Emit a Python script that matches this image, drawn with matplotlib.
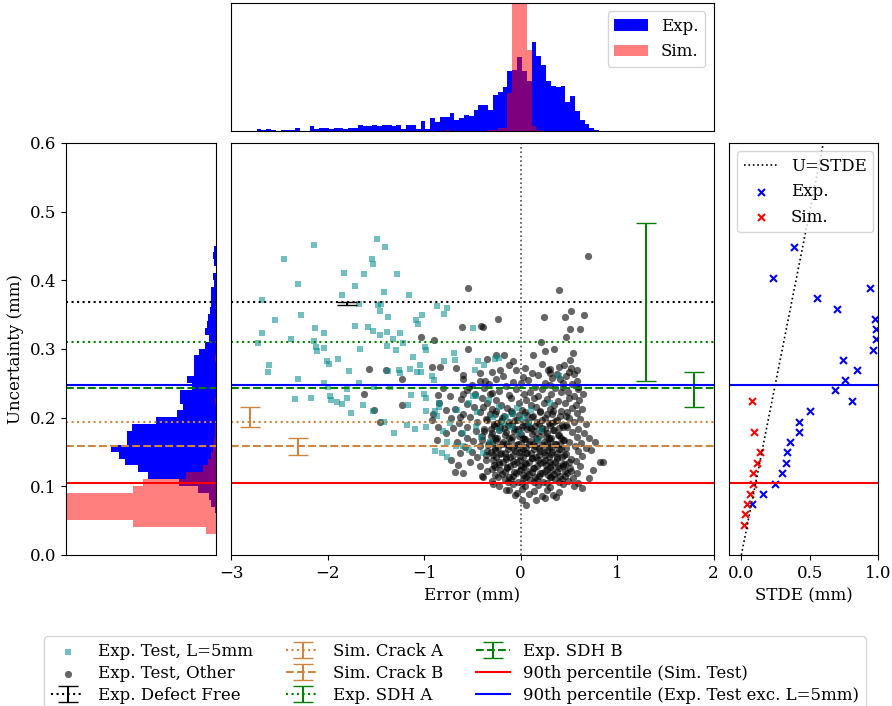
import numpy as np
import matplotlib
matplotlib.use("Agg")
import matplotlib.pyplot as plt

plt.rcParams['font.family'] = 'DejaVu Serif'
plt.rcParams['font.size'] = 12

# ---- scatter data (error, uncertainty) in mm ----
l5_err = [-2.14, -2.45, -1.49, -1.40, -1.54, -1.53, -1.83, -1.62, -1.28, -2.31, -1.72, -1.41, -1.16,
          -2.68, -1.85, -1.67, -1.48, -1.45, -1.46, -2.28, -1.37, -0.87, -0.76, -0.79, -2.54, -1.08,
          -1.06, -1.02, -2.68, -2.38, -2.13, -2.04, -1.72, -1.58, -1.53, -1.46, -1.38, -1.25, -1.32,
          -2.72, -2.14, -2.12, -2.11, -2.04, -1.66, -1.38, -1.29, -1.22, -0.99, -0.98, -2.61, -2.62,
          -2.31, -2.01, -1.99, -1.89, -1.78, -1.67, -2.04, -2.00, -1.37, -1.26, -1.25, -1.15, -1.11,
          -1.04, -1.07, -1.03, -0.92, -0.90, -0.69, -0.79, -0.68, -0.49, -0.44, -0.38, -0.47, -0.27,
          -0.22, -0.49, -2.34, -2.17, -1.97, -1.96, -1.90, -1.85, -1.80, -1.76, -1.63, -1.53, -1.80,
          -1.52, -1.35, -1.14, -1.00, -0.98, -1.17, -0.98, -0.89, -0.84, -0.84, -0.66, -0.53, -0.46,
          -0.33, -0.45, -1.18, -1.09, -0.98, -1.31, -0.87, -0.89, -0.81, -0.76, -0.76, -1.42, -0.60,
          -0.53, -0.41, -0.32, -0.22, -0.10, -0.01, -0.08, 0.09, 0.30, 0.40, -0.80, -0.73, -0.22,
          -0.15, 0.02, 0.18, -0.39, -0.29, -0.18, -0.04, -0.60, -0.46, -0.67, -0.01, 0.11, 0.21]
l5_unc = [0.452, 0.431, 0.460, 0.448, 0.431, 0.424, 0.410, 0.409, 0.409, 0.395, 0.391, 0.383, 0.378,
          0.371, 0.378, 0.366, 0.364, 0.366, 0.355, 0.350, 0.347, 0.363, 0.359, 0.351, 0.342, 0.342,
          0.337, 0.349, 0.323, 0.315, 0.330, 0.323, 0.333, 0.332, 0.326, 0.320, 0.324, 0.323, 0.315,
          0.308, 0.311, 0.303, 0.297, 0.301, 0.300, 0.305, 0.299, 0.308, 0.303, 0.299, 0.276, 0.266,
          0.256, 0.283, 0.278, 0.286, 0.268, 0.251, 0.250, 0.245, 0.268, 0.269, 0.265, 0.271, 0.289,
          0.276, 0.267, 0.267, 0.260, 0.255, 0.294, 0.282, 0.284, 0.330, 0.283, 0.276, 0.269, 0.285,
          0.287, 0.231, 0.227, 0.228, 0.232, 0.225, 0.223, 0.220, 0.228, 0.207, 0.218, 0.210, 0.241,
          0.245, 0.245, 0.233, 0.235, 0.229, 0.219, 0.209, 0.210, 0.216, 0.222, 0.211, 0.222, 0.231,
          0.225, 0.208, 0.189, 0.184, 0.187, 0.177, 0.202, 0.152, 0.148, 0.143, 0.165, 0.194, 0.158,
          0.153, 0.172, 0.165, 0.182, 0.187, 0.177, 0.206, 0.192, 0.221, 0.260, 0.180, 0.192, 0.216,
          0.201, 0.201, 0.167, 0.148, 0.201, 0.192, 0.214, 0.177, 0.187, 0.158, 0.197, 0.211, 0.182]

other_pts = [
    (0.70, 0.435), (0.40, 0.386), (-0.54, 0.389), (-0.41, 0.333), (-0.39, 0.332), (-0.23, 0.344),
    (-0.61, 0.332), (0.24, 0.346), (0.46, 0.346), (0.52, 0.356), (0.66, 0.349), (0.51, 0.329),
    (0.62, 0.329), (0.47, 0.318), (0.21, 0.310), (0.35, 0.300), (0.25, 0.297), (0.13, 0.291),
    (-1.03, 0.318), (-0.90, 0.313), (-0.54, 0.300), (-0.25, 0.291), (-0.17, 0.291), (-0.08, 0.282),
    (-1.57, 0.271), (-1.39, 0.269), (-1.23, 0.257), (-0.92, 0.274), (-0.83, 0.274), (-0.67, 0.273),
    (-0.60, 0.257), (-0.37, 0.254), (-0.35, 0.286), (-0.21, 0.269), (-1.62, 0.234), (-1.52, 0.211),
    (-1.46, 0.194), (-1.23, 0.219), (-0.92, 0.197), (-0.86, 0.233), (-0.84, 0.221), (0.54, 0.294),
    (0.51, 0.284), (0.58, 0.269), (0.59, 0.245), (0.40, 0.274), (0.30, 0.265), (0.44, 0.250),
    (0.65, 0.235), (0.77, 0.165), (0.82, 0.136), (0.85, 0.136), (0.73, 0.153), (0.75, 0.124),
    (0.71, 0.112), (0.64, 0.097), (0.37, 0.085), (0.25, 0.083), (0.16, 0.080), (0.06, 0.073),
    (0.01, 0.080), (-0.04, 0.090), (-0.15, 0.095), (-0.29, 0.104), (-0.39, 0.114), (-0.60, 0.119),
    (-0.68, 0.121), (-0.65, 0.131), (-0.72, 0.138), (-0.86, 0.187), (-0.91, 0.206), (-0.87, 0.167),
    (-0.77, 0.177), (-0.63, 0.148), (-0.80, 0.243), (-0.73, 0.231), (-0.60, 0.235), (-0.53, 0.245),
    (-0.77, 0.211), (-0.63, 0.201), (-0.39, 0.216), (-0.32, 0.235), (-0.60, 0.262), (-0.42, 0.265),
    (-0.12, 0.276), (0.05, 0.273), (0.22, 0.278), (0.31, 0.271), (0.45, 0.277), (0.52, 0.272),
    (-0.30, 0.266), (-0.05, 0.269), (0.12, 0.265), (0.28, 0.270), (0.38, 0.264), (0.50, 0.267),
    (-0.18, 0.261), (0.02, 0.259), (0.18, 0.262), (0.33, 0.258), (0.47, 0.260), (0.55, 0.263),
    (-0.42, 0.253), (-0.25, 0.256), (-0.08, 0.252), (0.08, 0.255), (0.25, 0.251), (0.41, 0.257),
    (0.58, 0.254), (-0.50, 0.247), (-0.33, 0.249), (-0.15, 0.246), (0.00, 0.250), (0.15, 0.245),
    (0.30, 0.248), (0.44, 0.244), (0.53, 0.249), (-0.55, 0.240), (-0.38, 0.243), (-0.22, 0.239),
    (-0.05, 0.242), (0.10, 0.238), (0.22, 0.241), (0.36, 0.243), (0.49, 0.238), (0.60, 0.241),
    (-0.47, 0.234), (-0.30, 0.236), (-0.12, 0.233), (0.04, 0.235), (0.18, 0.231), (0.32, 0.234),
    (0.42, 0.237), (0.55, 0.232), (-0.62, 0.227), (-0.40, 0.229), (-0.25, 0.226), (-0.10, 0.228),
    (0.06, 0.225), (0.14, 0.229), (0.27, 0.227), (0.39, 0.224), (0.50, 0.228), (0.61, 0.226),
    (-0.55, 0.220), (-0.35, 0.222), (-0.20, 0.219), (-0.02, 0.221), (0.11, 0.218), (0.24, 0.222),
    (0.35, 0.219), (0.46, 0.221), (0.57, 0.218), (-0.68, 0.213), (-0.48, 0.215), (-0.30, 0.212),
    (-0.14, 0.214), (0.01, 0.211), (0.16, 0.215), (0.30, 0.213), (0.42, 0.210), (0.53, 0.214),
    (0.64, 0.212), (-0.60, 0.206), (-0.42, 0.208), (-0.26, 0.205), (-0.09, 0.207), (0.07, 0.204),
    (0.20, 0.208), (0.33, 0.206), (0.47, 0.203), (0.58, 0.207), (-0.72, 0.199), (-0.52, 0.201),
    (-0.36, 0.198), (-0.19, 0.200), (-0.04, 0.197), (0.12, 0.201), (0.25, 0.199), (0.38, 0.196),
    (0.50, 0.200), (0.62, 0.198), (-0.64, 0.192), (-0.45, 0.194), (-0.28, 0.191), (-0.12, 0.193),
    (0.03, 0.190), (0.17, 0.194), (0.29, 0.192), (0.43, 0.189), (0.55, 0.193), (0.68, 0.191),
    (-0.70, 0.185), (-0.55, 0.187), (-0.38, 0.184), (-0.21, 0.186), (-0.06, 0.183), (0.09, 0.187),
    (0.22, 0.185), (0.35, 0.182), (0.48, 0.186), (0.60, 0.184), (-0.62, 0.178), (-0.46, 0.180),
    (-0.30, 0.177), (-0.15, 0.179), (0.00, 0.176), (0.14, 0.180), (0.27, 0.178), (0.40, 0.175),
    (0.53, 0.179), (0.66, 0.177), (-0.56, 0.171), (-0.40, 0.173), (-0.24, 0.170), (-0.09, 0.172),
    (0.05, 0.169), (0.19, 0.173), (0.32, 0.171), (0.45, 0.168), (0.58, 0.172), (0.71, 0.170),
    (-0.66, 0.164), (-0.49, 0.166), (-0.33, 0.163), (-0.18, 0.165), (-0.03, 0.162), (0.10, 0.166),
    (0.24, 0.164), (0.37, 0.161), (0.50, 0.165), (0.63, 0.163), (-0.58, 0.157), (-0.42, 0.159),
    (-0.27, 0.156), (-0.12, 0.158), (0.02, 0.155), (0.15, 0.159), (0.29, 0.157), (0.42, 0.154),
    (0.56, 0.158), (0.68, 0.156), (-0.50, 0.150), (-0.35, 0.152), (-0.20, 0.149), (-0.06, 0.151),
    (0.07, 0.148), (0.20, 0.152), (0.33, 0.150), (0.47, 0.147), (0.60, 0.151), (-0.45, 0.143),
    (-0.29, 0.145), (-0.15, 0.142), (-0.01, 0.144), (0.12, 0.141), (0.25, 0.145), (0.38, 0.143),
    (0.52, 0.140), (0.64, 0.144), (-0.52, 0.136), (-0.36, 0.138), (-0.22, 0.135), (-0.08, 0.137),
    (0.05, 0.134), (0.18, 0.138), (0.31, 0.136), (0.44, 0.133), (0.57, 0.137), (-0.42, 0.129),
    (-0.28, 0.131), (-0.14, 0.128), (0.00, 0.130), (0.13, 0.127), (0.26, 0.131), (0.39, 0.129),
    (0.51, 0.126), (0.62, 0.130), (-0.35, 0.122), (-0.21, 0.124), (-0.07, 0.121), (0.07, 0.123),
    (0.20, 0.120), (0.33, 0.124), (0.46, 0.122), (0.58, 0.119), (-0.40, 0.115), (-0.26, 0.117),
    (-0.12, 0.114), (0.02, 0.116), (0.15, 0.113), (0.28, 0.117), (0.41, 0.115), (0.54, 0.112),
    (-0.30, 0.108), (-0.16, 0.110), (-0.03, 0.107), (0.10, 0.109), (0.23, 0.106), (0.36, 0.110),
    (0.49, 0.108), (0.60, 0.105), (-0.22, 0.101), (-0.08, 0.103), (0.05, 0.100), (0.18, 0.102),
    (0.31, 0.099), (0.44, 0.103), (0.55, 0.100), (-0.12, 0.094), (0.01, 0.096), (0.14, 0.093),
    (0.27, 0.095), (0.40, 0.092), (-0.06, 0.087), (0.09, 0.089), (0.22, 0.086), (0.34, 0.088),
    (-0.32, 0.205), (-0.17, 0.203), (-0.02, 0.204), (0.13, 0.202), (0.27, 0.205), (0.41, 0.203),
    (-0.35, 0.196), (-0.20, 0.195), (-0.06, 0.197), (0.08, 0.194), (0.22, 0.196), (0.36, 0.195),
    (-0.28, 0.188), (-0.13, 0.189), (0.01, 0.187), (0.15, 0.188), (0.30, 0.189), (0.44, 0.187),
    (-0.38, 0.181), (-0.22, 0.182), (-0.07, 0.181), (0.07, 0.183), (0.21, 0.181), (0.34, 0.182),
    (-0.31, 0.174), (-0.16, 0.175), (-0.02, 0.174), (0.12, 0.176), (0.26, 0.174), (0.39, 0.175),
    (-0.40, 0.167), (-0.25, 0.168), (-0.10, 0.167), (0.04, 0.169), (0.17, 0.167), (0.31, 0.168),
    (0.44, 0.167), (-0.34, 0.160), (-0.19, 0.161), (-0.05, 0.160), (0.09, 0.162), (0.22, 0.160),
    (0.36, 0.161), (-0.27, 0.153), (-0.13, 0.154), (0.00, 0.153), (0.14, 0.155), (0.27, 0.153),
    (0.40, 0.154), (-0.36, 0.146), (-0.21, 0.147), (-0.08, 0.146), (0.06, 0.148), (0.19, 0.146),
    (0.32, 0.147), (0.45, 0.146), (-0.29, 0.139), (-0.15, 0.140), (-0.01, 0.139), (0.12, 0.141),
    (0.25, 0.139), (0.38, 0.140), (-0.22, 0.132), (-0.07, 0.133), (0.06, 0.132), (0.20, 0.134),
    (0.33, 0.132), (0.46, 0.133), (-0.30, 0.125), (-0.14, 0.126), (0.00, 0.125), (0.14, 0.127),
    (0.27, 0.125), (0.40, 0.126), (-0.19, 0.118), (-0.05, 0.119), (0.09, 0.118), (0.22, 0.120),
    (0.35, 0.118), (0.48, 0.119), (-0.10, 0.111), (0.04, 0.112), (0.17, 0.111), (0.30, 0.113),
    (0.43, 0.111),
    (-0.25, 0.209), (-0.10, 0.210), (0.05, 0.208), (0.20, 0.210), (0.34, 0.209), (0.48, 0.208),
    (-0.24, 0.192), (-0.09, 0.191), (0.05, 0.193), (0.19, 0.191), (0.33, 0.192), (0.47, 0.190),
    (-0.31, 0.184), (-0.17, 0.185), (-0.03, 0.184), (0.11, 0.185), (0.25, 0.184), (0.40, 0.185),
    (-0.26, 0.171), (-0.12, 0.170), (0.02, 0.171), (0.16, 0.170), (0.29, 0.171), (0.42, 0.170),
    (-0.30, 0.163), (-0.15, 0.162), (0.00, 0.163), (0.13, 0.162), (0.27, 0.163), (0.41, 0.162),
    (-0.23, 0.157), (-0.08, 0.156), (0.06, 0.157), (0.19, 0.156), (0.33, 0.157), (0.47, 0.156),
    (-0.31, 0.150), (-0.16, 0.149), (-0.02, 0.150), (0.11, 0.149), (0.24, 0.150), (0.38, 0.149),
    (-0.25, 0.142), (-0.11, 0.143), (0.03, 0.142), (0.16, 0.143), (0.29, 0.142), (0.43, 0.143),
    (-0.18, 0.135), (-0.04, 0.136), (0.09, 0.135), (0.23, 0.136), (0.36, 0.135), (0.50, 0.136),
    (-0.26, 0.128), (-0.11, 0.129), (0.03, 0.128), (0.17, 0.129), (0.30, 0.128), (0.44, 0.129),
    (-0.16, 0.121), (-0.02, 0.122), (0.12, 0.121), (0.25, 0.122), (0.38, 0.121), (0.52, 0.122),
    (-0.23, 0.114), (-0.08, 0.115), (0.06, 0.114), (0.19, 0.115), (0.32, 0.114), (0.46, 0.115),
    (-0.13, 0.106), (0.01, 0.105), (0.14, 0.106), (0.27, 0.105), (0.40, 0.106),
]
other_err = [p[0] for p in other_pts]
other_unc = [p[1] for p in other_pts]

# ---- histogram counts ----
err_bin_start, err_bin_width = -2.736, 0.05
exp_err_counts = [2, 1, 2, 1, 0, 1, 1, 1, 3, 0, 0, 4, 2, 3, 3, 2, 3, 3, 2, 3, 3, 5, 4, 4, 5, 4, 5, 5,
                  4, 5, 2, 5, 5, 2, 9, 2, 11, 8, 12, 12, 16, 10, 11, 14, 13, 18, 23, 23, 18, 31, 34,
                  38, 52, 53, 64, 52, 43, 77, 65, 57, 43, 39, 38, 39, 25, 30, 17, 10, 6, 3, 1]
sim_err_counts = [0] * 39 + [1] + [0] * 8 + [1, 1, 3, 3, 33, 130, 140, 125, 70, 4, 1] + [0] * 12

unc_bin_start, unc_bin_width = 0.0305, 0.01
exp_unc_counts = [0, 0, 0, 1, 4, 6, 16, 32, 59, 68, 79, 84, 91, 77, 77, 73, 52, 34, 29, 31, 31,
                  21, 25, 19, 19, 19, 15, 10, 6, 10, 8, 7, 5, 4, 4, 4, 2, 3, 0, 2, 3, 2]
sim_unc_counts = [9, 72, 190, 230, 210, 160, 72, 63, 26, 11, 7, 4, 3, 2, 1, 1, 0, 0, 0, 1, 0,
                  0, 0, 0, 0, 1, 0, 0, 0, 0, 0, 0, 0, 0, 0, 0, 0, 0, 0, 0, 0, 0]

# ---- reference levels and error bars ----
defect_free = dict(x=-1.80, y=0.3665, err=0.002, level=0.368)
crack_a = dict(x=-2.80, y=0.2005, err=0.0145, level=0.1937)
crack_b = dict(x=-2.31, y=0.158, err=0.013, level=0.159)
sdh_a = dict(x=1.30, y=0.3687, err=0.1153, level=0.310)
sdh_b = dict(x=1.80, y=0.2413, err=0.0258, level=0.243)
sim_p90 = 0.105
exp_p90 = 0.2476

# ---- STDE vs uncertainty ----
exp_stde = [0.387, 0.231, 0.942, 0.552, 0.698, 0.981, 0.985, 0.985, 0.966, 0.747, 0.849, 0.761,
            0.686, 0.810, 0.504, 0.423, 0.423, 0.353, 0.333, 0.326, 0.294, 0.250, 0.158, 0.078]
exp_u = [0.449, 0.404, 0.389, 0.374, 0.358, 0.343, 0.329, 0.314, 0.2985, 0.284, 0.269, 0.255,
         0.240, 0.2247, 0.2097, 0.194, 0.179, 0.1646, 0.1495, 0.1345, 0.119, 0.104, 0.0893, 0.074]
sim_stde = [0.078, 0.095, 0.139, 0.114, 0.083, 0.083, 0.066, 0.041, 0.029, 0.017]
sim_u = [0.2247, 0.179, 0.1495, 0.1345, 0.119, 0.104, 0.089, 0.074, 0.059, 0.0437]

fig = plt.figure(figsize=(8.92, 7.06), dpi=100)
ax_main = fig.add_axes([0.259, 0.2139, 0.541, 0.5836])
ax_top = fig.add_axes([0.259, 0.8144, 0.541, 0.1813], sharex=ax_main)
ax_left = fig.add_axes([0.074, 0.2139, 0.1682, 0.5836], sharey=ax_main)
ax_right = fig.add_axes([0.8173, 0.2139, 0.167, 0.5836], sharey=ax_main)

# main scatter
h_l5 = ax_main.scatter(l5_err, l5_unc, marker='s', s=22, color='darkcyan', alpha=0.55,
                       lw=0, zorder=1.2, label='Exp. Test, L=5mm')
h_oth = ax_main.scatter(other_err, other_unc, marker='o', s=27, color='k', alpha=0.6,
                        lw=0, zorder=1.1, label='Exp. Test, Other')
ax_main.axvline(0, color='0.3', ls=':', lw=1.2)

styles = [(defect_free, 'k', ':', 'Exp. Defect Free'),
          (crack_a, 'peru', ':', 'Sim. Crack A'),
          (crack_b, 'peru', '--', 'Sim. Crack B'),
          (sdh_a, 'green', ':', 'Exp. SDH A'),
          (sdh_b, 'green', '--', 'Exp. SDH B')]
eb_handles = []
for d, c, ls, lab in styles:
    h = ax_main.errorbar([d['x']], [d['y']], yerr=[d['err']], color=c, ls=ls, capsize=7,
                         label=lab)
    eb_handles.append(h)
    for ax in (ax_main, ax_left):
        ax.axhline(d['level'], color=c, ls=ls, lw=1.5)

for ax in (ax_main, ax_left, ax_right):
    ax.axhline(sim_p90, color='red', lw=1.5)
    ax.axhline(exp_p90, color='blue', lw=1.5)
h_sim = plt.Line2D([], [], color='red', lw=1.5, label='90th percentile (Sim. Test)')
h_exp = plt.Line2D([], [], color='blue', lw=1.5, label='90th percentile (Exp. Test exc. L=5mm)')

ax_main.set_xlim(-3, 2)
ax_main.set_xticks([-3, -2, -1, 0, 1, 2])
ax_main.set_xlabel('Error (mm)')
ax_main.tick_params(left=False, labelleft=False)

# top histogram
err_edges = err_bin_start + err_bin_width * np.arange(len(exp_err_counts) + 1)
err_centers = (err_edges[:-1] + err_edges[1:]) / 2
ax_top.hist(err_centers, bins=err_edges, weights=exp_err_counts, histtype='stepfilled',
            color='blue', label='Exp.')
ax_top.hist(err_centers, bins=err_edges, weights=sim_err_counts, histtype='stepfilled',
            color='red', alpha=0.5, label='Sim.')
ax_top.set_ylim(0, 111)
ax_top.tick_params(bottom=False, labelbottom=False, left=False, labelleft=False)
ax_top.legend(loc='upper right')

# left histogram
unc_edges = unc_bin_start + unc_bin_width * np.arange(len(exp_unc_counts) + 1)
unc_centers = (unc_edges[:-1] + unc_edges[1:]) / 2
ax_left.hist(unc_centers, bins=unc_edges, weights=exp_unc_counts, histtype='stepfilled',
             color='blue', orientation='horizontal')
ax_left.hist(unc_centers, bins=unc_edges, weights=sim_unc_counts, histtype='stepfilled',
             color='red', alpha=0.5, orientation='horizontal')
ax_left.set_xlim(130, 0)
ax_left.set_yticks([0.0, 0.1, 0.2, 0.3, 0.4, 0.5, 0.6])
ax_left.set_ylabel('Uncertainty (mm)')
ax_left.tick_params(bottom=False, labelbottom=False)

# right panel
h_line = ax_right.plot([0, 1], [0, 1], 'k:', lw=1.2, label='U=STDE')[0]
h_rexp = ax_right.scatter(exp_stde, exp_u, marker='x', s=25, color='blue', label='Exp.')
h_rsim = ax_right.scatter(sim_stde, sim_u, marker='x', s=25, color='red', label='Sim.')
ax_right.set_xlim(-0.09, 1.0)
ax_right.set_xticks([0.0, 0.5, 1.0])
ax_right.set_xlabel('STDE (mm)')
ax_right.tick_params(left=False, labelleft=False)
ax_right.legend([h_line, h_rexp, h_rsim], ['U=STDE', 'Exp.', 'Sim.'], loc='upper left')
ax_main.set_ylim(0, 0.6)

handles = [h_l5, h_oth, eb_handles[0], eb_handles[1], eb_handles[2], eb_handles[3],
           eb_handles[4], h_sim, h_exp]
labels = [h.get_label() for h in handles]
fig.legend(handles, labels, ncol=3, loc='upper center', bbox_to_anchor=(0.51, 0.1105),
           labelspacing=0.3)

fig.savefig('out.png', dpi=100)
